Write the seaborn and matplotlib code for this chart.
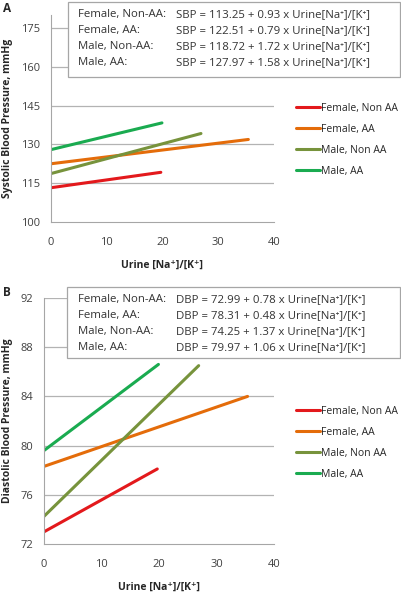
import numpy as np
import pandas as pd
import matplotlib
matplotlib.use("Agg")
import matplotlib.pyplot as plt
from matplotlib.patches import Rectangle
import seaborn as sns

# groups and colours
groups = ["Female, Non AA", "Female, AA", "Male, Non AA", "Male, AA"]
colors = ["#E3191C", "#E46C0A", "#77933C", "#1AAB50"]
eq_labels = ["Female, Non-AA:", "Female, AA:", "Male, Non-AA:", "Male, AA:"]

# line ends (start at ratio 0)
x_end = [19.7, 35.4, 26.9, 19.9]
sbp_start = [113.25, 122.51, 118.72, 127.97]
sbp_end = [119.2, 131.9, 134.2, 138.3]
dbp_start = [72.99, 78.31, 74.25, 79.6]
dbp_end = [78.1, 84.0, 86.5, 86.6]

sbp_eq = ["SBP = 113.25 + 0.93 x Urine[Na\u207a]/[K\u207a]",
          "SBP = 122.51 + 0.79 x Urine[Na\u207a]/[K\u207a]",
          "SBP = 118.72 + 1.72 x Urine[Na\u207a]/[K\u207a]",
          "SBP = 127.97 + 1.58 x Urine[Na\u207a]/[K\u207a]"]
dbp_eq = ["DBP = 72.99 + 0.78 x Urine[Na\u207a]/[K\u207a]",
          "DBP = 78.31 + 0.48 x Urine[Na\u207a]/[K\u207a]",
          "DBP = 74.25 + 1.37 x Urine[Na\u207a]/[K\u207a]",
          "DBP = 79.97 + 1.06 x Urine[Na\u207a]/[K\u207a]"]

sns.set_style("white")
plt.rcParams['font.family'] = ['Open Sans', 'DejaVu Sans']

W, H = 402, 593
fig = plt.figure(figsize=(W / 100, H / 100), dpi=100)


def px_axes(l, t, r, b):
    return fig.add_axes([l / W, 1 - b / H, (r - l) / W, (b - t) / H])


def make_df(start, end):
    rows = []
    for g, xs, y0, y1 in zip(groups, x_end, start, end):
        rows.append({"group": g, "x": 0, "y": y0})
        rows.append({"group": g, "x": xs, "y": y1})
    return pd.DataFrame(rows)


def panel(ax, df, ylim, yticks, ylabel, letter, box, eqs, leg_y, ax_left):
    sns.lineplot(data=df, x="x", y="y", hue="group", palette=colors,
                 hue_order=groups, linewidth=2.2, ax=ax, legend=True)
    ax.set_xlim(0, 40)
    ax.set_ylim(*ylim)
    ax.set_xticks([0, 10, 20, 30, 40])
    ax.set_yticks(yticks)
    for y in yticks[1:]:
        ax.axhline(y, color="#b3b3b3", linewidth=0.9, zorder=0)
    for s in ["top", "right"]:
        ax.spines[s].set_visible(False)
    ax.spines["left"].set_color("#a6a6a6")
    ax.spines["bottom"].set_color("#a6a6a6")
    ax.tick_params(length=0, labelsize=8, colors="#404040", pad=8)
    ax.tick_params(axis="x", pad=10.5)
    ax.set_xlabel("Urine [Na\u207a]/[K\u207a]", fontsize=7.5, fontweight="bold",
                  labelpad=9)
    ax.set_ylabel(ylabel, fontsize=7.5, fontweight="bold")
    # label centre at about x = 8 px in the figure
    ax.yaxis.set_label_coords((8 - ax_left) / (274 - ax_left), 0.5)
    ax.yaxis.label.set_va("center")
    ax.legend(loc="upper left", bbox_to_anchor=(296 / W, 1 - leg_y / H),
              bbox_transform=fig.transFigure, frameon=False, fontsize=7.5,
              handlelength=2.3, handletextpad=0.1, labelspacing=0.95,
              borderpad=0, borderaxespad=0)
    fig.text(3 / W, 1 - letter[1] / H, letter[0], fontsize=8.5,
             fontweight="bold", va="center", ha="left")
    l, t, r, b = box
    fig.add_artist(Rectangle((l / W, 1 - b / H), (r - l) / W, (b - t) / H,
                             transform=fig.transFigure, facecolor="white",
                             edgecolor="#a6a6a6", linewidth=0.9, zorder=5))
    row_y = t + 12.5 + 15.9 * np.arange(4)
    for lab, eq, yy in zip(eq_labels, eqs, row_y):
        fig.text(78 / W, 1 - yy / H, lab, fontsize=8.2, va="center", ha="left",
                 color="#333333", zorder=6)
        fig.text(176 / W, 1 - yy / H, eq, fontsize=8.2, va="center", ha="left",
                 color="#333333", zorder=6)


axA = px_axes(51, 15, 274, 222)
panel(axA, make_df(sbp_start, sbp_end), (100, 180), [100, 115, 130, 145, 160, 175],
      "Systolic Blood Pressure, mmHg", ("A", 8), (68, 2, 400, 77), sbp_eq, 103, 51)

axB = px_axes(44, 298, 274, 544)
panel(axB, make_df(dbp_start, dbp_end), (72, 92), [72, 76, 80, 84, 88, 92],
      "Diastolic Blood Pressure, mmHg", ("B", 293), (67, 287, 400, 358), dbp_eq, 406, 44)

fig.savefig("out.png", dpi=100)
